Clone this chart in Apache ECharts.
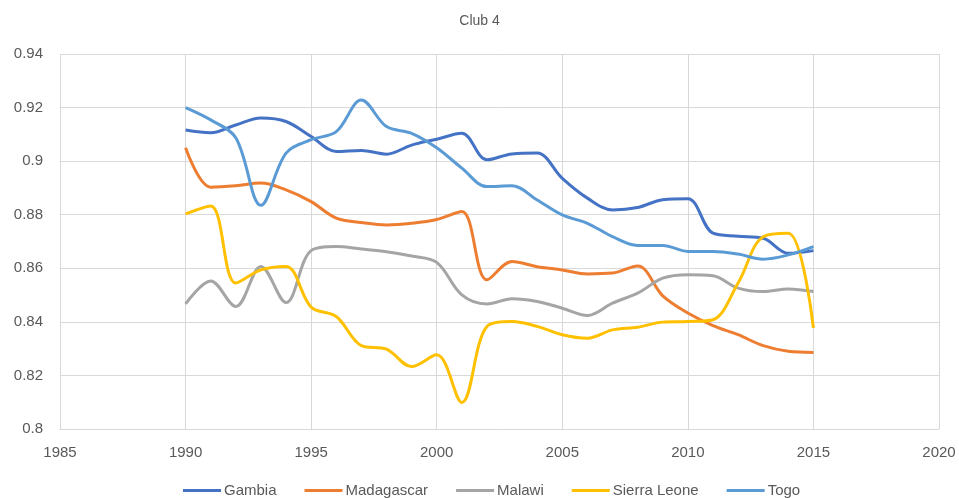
<!DOCTYPE html>
<html>
<head>
<meta charset="utf-8">
<script src="https://cdn.jsdelivr.net/npm/echarts@6/dist/echarts.min.js"></script>
<style>
  html, body { margin: 0; padding: 0; background: #fff; }
  #chart { width: 959px; height: 498px; }
</style>
</head>
<body>
<div id="chart"></div>
<script>
// years 1990..2015
const years = [1990, 1991, 1992, 1993, 1994, 1995, 1996, 1997, 1998, 1999, 2000, 2001, 2002,
  2003, 2004, 2005, 2006, 2007, 2008, 2009, 2010, 2011, 2012, 2013, 2014, 2015];

const gambia = [0.9116, 0.9106, 0.9135, 0.9161, 0.9148, 0.9092, 0.9036, 0.904, 0.9026, 0.906,
  0.9082, 0.9104, 0.9005, 0.9027, 0.903, 0.8936, 0.8862, 0.8818, 0.8827, 0.8856,
  0.886, 0.8731, 0.872, 0.8712, 0.8656, 0.8666];
const madagascar = [0.905, 0.8903, 0.8908, 0.8918, 0.8893, 0.8849, 0.8787, 0.8771, 0.8762, 0.8768,
  0.8782, 0.8812, 0.8557, 0.8625, 0.8606, 0.8594, 0.8579, 0.8582, 0.8609, 0.8497,
  0.8433, 0.8386, 0.8352, 0.8311, 0.829, 0.8286];
const malawi = [0.8467, 0.8553, 0.8457, 0.8607, 0.8472, 0.8666, 0.8681, 0.8672, 0.8662, 0.8646,
  0.8622, 0.8501, 0.8467, 0.8486, 0.8476, 0.8451, 0.8424, 0.847, 0.8507, 0.8563,
  0.8576, 0.8572, 0.8526, 0.8513, 0.8523, 0.8513];
const sierraLeone = [0.8803, 0.8833, 0.8545, 0.8594, 0.8607, 0.8455, 0.842, 0.8311, 0.8298, 0.8233,
  0.8277, 0.8099, 0.8383, 0.8401, 0.8383, 0.8352, 0.8339, 0.837, 0.838, 0.8399,
  0.8401, 0.8408, 0.8545, 0.8718, 0.8731, 0.8377];
const togo = [0.92, 0.9154, 0.9087, 0.8835, 0.903, 0.908, 0.911, 0.9228, 0.9129, 0.9104,
  0.905, 0.8974, 0.8905, 0.8908, 0.8855, 0.8799, 0.8768, 0.8718, 0.8685, 0.8685,
  0.8663, 0.8663, 0.8653, 0.8634, 0.865, 0.8681];

const names = ['Gambia', 'Madagascar', 'Malawi', 'Sierra Leone', 'Togo'];
const colors = ['#4472C4', '#ED7D31', '#A5A5A5', '#FFC000', '#5B9BD5'];
const values = [gambia, madagascar, malawi, sierraLeone, togo];

const font = 'Liberation Sans';
const chart = echarts.init(document.getElementById('chart'));

chart.setOption({
  animation: false,
  color: colors,
  title: {
    text: 'Club 4',
    left: 'center',
    top: 9,
    textStyle: { fontFamily: font, fontSize: 14, fontWeight: 'normal', color: '#595959' }
  },
  legend: {
    top: 478,
    left: 178,
    itemWidth: 38,
    itemHeight: 3,
    itemGap: 28,
    icon: 'rect',
    textStyle: { fontFamily: font, fontSize: 15, color: '#595959', padding: [0, 0, 0, -2] },
    data: names
  },
  grid: { left: 60, right: 20, top: 54, bottom: 69 },
  xAxis: {
    type: 'value',
    min: 1985,
    max: 2020,
    interval: 5,
    axisLine: { lineStyle: { color: '#D9D9D9' } },
    axisTick: { show: false },
    splitLine: { lineStyle: { color: '#D9D9D9' } },
    axisLabel: { fontFamily: font, fontSize: 15, color: '#595959', margin: 16, formatter: v => String(v) }
  },
  yAxis: {
    type: 'value',
    min: 0.8,
    max: 0.94,
    interval: 0.02,
    axisLine: { show: false },
    axisTick: { show: false },
    splitLine: { lineStyle: { color: '#D9D9D9' } },
    axisLabel: {
      fontFamily: font, fontSize: 15, color: '#595959', margin: 17,
      formatter: v => String(parseFloat(v.toFixed(2)))
    }
  },
  series: names.map((n, i) => ({
    name: n,
    type: 'line',
    smooth: 0.35,
    showSymbol: false,
    lineStyle: { width: 3, color: colors[i] },
    data: years.map((y, j) => [y, values[i][j]])
  }))
});
</script>
</body>
</html>
